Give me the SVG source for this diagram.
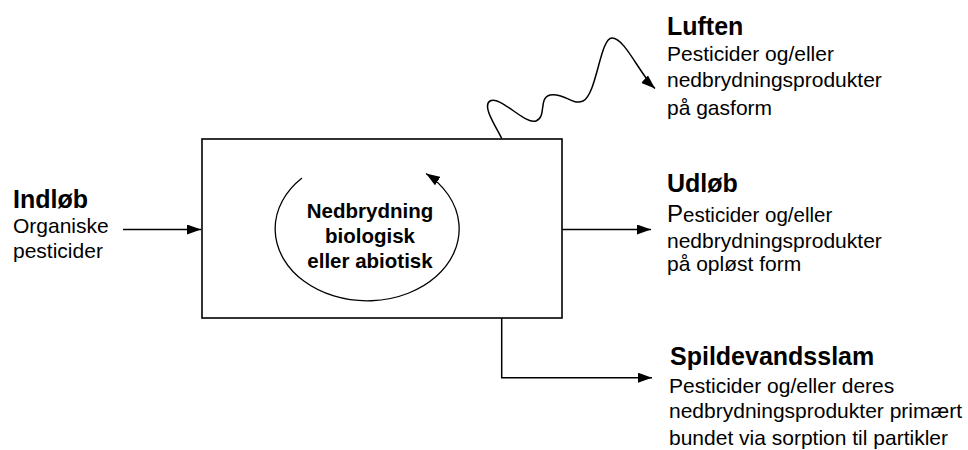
<svg xmlns="http://www.w3.org/2000/svg" width="968" height="450" viewBox="0 0 968 450">
<style>
.t{font-family:"Liberation Sans",Arial,sans-serif;fill:#000}
.h{font-size:25px;font-weight:bold}
.r{font-size:21px}
.c{font-size:20.5px;font-weight:bold;text-anchor:middle}
.ln{fill:none;stroke:#000;stroke-width:1.5}
</style>
<defs>
<marker id="ah" viewBox="0 0 14 10" refX="14" refY="5" markerWidth="14" markerHeight="10" markerUnits="userSpaceOnUse" orient="auto">
<path d="M0,0 L14,5 L0,10 Z" fill="#000"/>
</marker>
</defs>
<rect width="968" height="450" fill="#fff"/>
<g id="process">
<rect x="202" y="139" width="360" height="179" fill="none" stroke="#000" stroke-width="1.6"/>
<path d="M302,178 A92,72 0 1,0 426,173.5" fill="none" stroke="#000" stroke-width="1.3" marker-end="url(#ah)"/>
<text class="t c" x="370" y="218">Nedbrydning</text>
<text class="t c" x="370" y="243">biologisk</text>
<text class="t c" x="370" y="268">eller abiotisk</text>
</g>
<g id="indlob">
<text class="t h" x="13" y="208">Indløb</text>
<text class="t r" x="13" y="233">Organiske</text>
<text class="t r" x="13" y="258">pesticider</text>
</g>
<g id="luften">
<text class="t h" x="667" y="35">Luften</text>
<text class="t r" x="667" y="61">Pesticider og/eller</text>
<text class="t r" x="667" y="87">nedbrydningsprodukter</text>
<text class="t r" x="667" y="115">på gasform</text>
</g>
<g id="udlob">
<text class="t h" x="667" y="192">Udløb</text>
<text class="t r" x="667" y="222"><tspan font-size="24">P</tspan><tspan font-size="20.5">esticider og/eller</tspan></text>
<text class="t r" x="667" y="248">nedbrydningsprodukter</text>
<text class="t r" x="667" y="271">på opløst form</text>
</g>
<g id="spildevandsslam">
<text class="t h" x="670" y="365">Spildevandsslam</text>
<text class="t r" x="669" y="393">Pesticider og/eller deres</text>
<text class="t r" x="669" y="418">nedbrydningsprodukter primært</text>
<text class="t r" x="669" y="445">bundet via sorption til partikler</text>
</g>
<g id="connectors">
<path class="ln" d="M123,229.5 L201,229.5" marker-end="url(#ah)"/>
<path class="ln" d="M562,229.5 L651,229.5" marker-end="url(#ah)"/>
<path class="ln" d="M501.7,318 L501.7,377.7 L652,377.7" marker-end="url(#ah)"/>
<path class="ln" d="M501.7,138.5 C495,125 482,106 490,101 C500,95 525,125 536,121 C547,117 538,98 550,95 C564,92 572,106 583,101 C597,94 600,38 612,38 C625,38 640,75 655,88.5" marker-end="url(#ah)"/>
</g>
</svg>
